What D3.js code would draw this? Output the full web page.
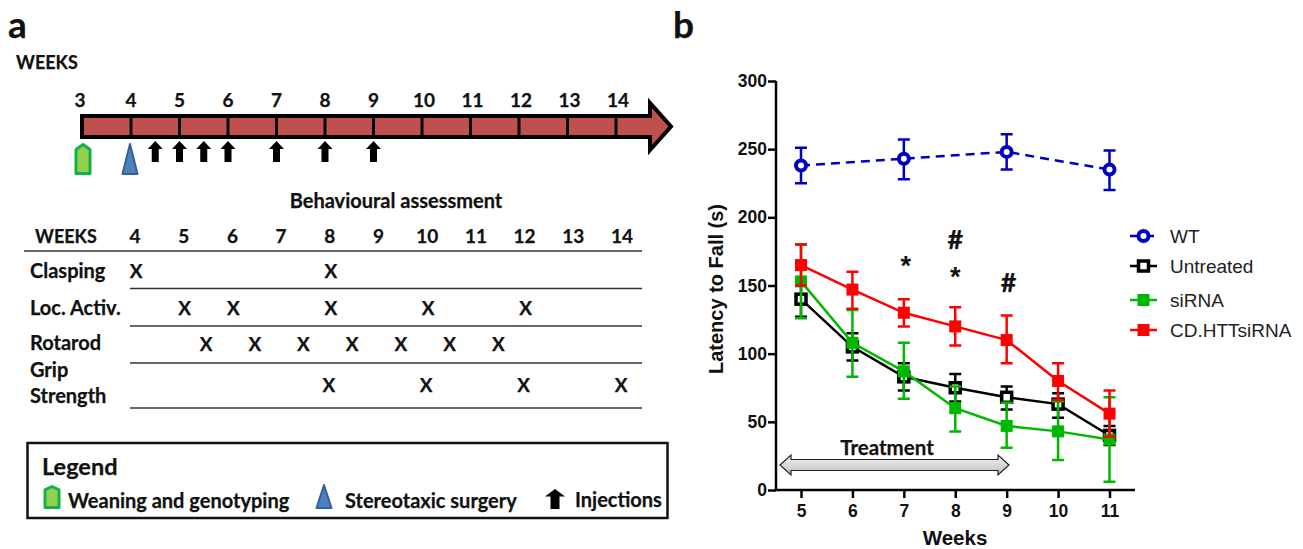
<!DOCTYPE html>
<html>
<head>
<meta charset="utf-8">
<script src="https://cdn.jsdelivr.net/npm/d3@7"></script>
<style>
  body { margin: 0; background: #fff; }
  .cal { font-family: Lato, sans-serif; font-weight: 700; fill: #111; stroke: #111; stroke-width: 0.25px; }
  .ari { font-family: "Liberation Sans", Arial, sans-serif; }
</style>
</head>
<body>
<script>
// panel a data
var timelineWeeks = [3, 4, 5, 6, 7, 8, 9, 10, 11, 12, 13, 14];
var injectionWeeks = [4.5, 5, 5.5, 6, 7, 8, 9];
var tableWeeks = [4, 5, 6, 7, 8, 9, 10, 11, 12, 13, 14];
var clasping = [4, 8];
var locActiv = [5, 6, 8, 10, 12];
var rotarod = [5.5, 6.5, 7.5, 8.5, 9.5, 10.5, 11.5];
var gripStrength = [8, 10, 12, 14];

// panel b data
var weeks = [5, 6, 7, 8, 9, 10, 11];
var wtWeeks = [5, 7, 9, 11];
var wt = [238, 243, 248, 235];
var wtHi = [251, 257, 261, 249];
var wtLo = [225, 228, 235, 220];
var untreated = [140, 105, 83, 75, 68, 63, 40];
var untreatedHi = [153, 115, 93, 85, 76, 71, 47];
var untreatedLo = [127, 95, 73, 65, 59, 53, 33];
var sirna = [153, 108, 87, 60, 47, 43, 37];
var sirnaHi = [180, 132, 108, 76, 64, 65, 68];
var sirnaLo = [126, 83, 67, 43, 31, 22, 6];
var cdhtt = [165, 147, 130, 120, 110, 80, 56];
var cdhttHi = [180, 160, 140, 134, 128, 93, 73];
var cdhttLo = [150, 133, 120, 106, 93, 66, 39];
var yTicks = [0, 50, 100, 150, 200, 250, 300];

var svg = d3.select("body").append("svg").attr("width", 1303).attr("height", 549);

function label(x, y, txt, size, anchor) {
  return svg.append("text").attr("class", "cal").attr("x", x).attr("y", y)
    .attr("font-size", size).attr("text-anchor", anchor || "start").text(txt);
}

function weaningMark(g, h, w) {
  g.append("path")
    .attr("d", "M" + (-w / 2 + 1.5) + "," + (h - 1.5) + "V" + (h * 0.2) + "L0,1.5L" + (w / 2 - 1.5) + "," + (h * 0.2) + "V" + (h - 1.5) + "Z")
    .attr("fill", "#92d050").attr("stroke", "#12b24a").attr("stroke-width", 3).attr("stroke-linejoin", "round");
}
function surgeryMark(g, h, w) {
  g.append("path")
    .attr("d", "M0,1L" + (w / 2 - 1) + "," + (h - 1) + "H" + (-w / 2 + 1) + "Z")
    .attr("fill", "#4f81bd").attr("stroke", "#36609a").attr("stroke-width", 2).attr("stroke-linejoin", "round");
}
function upArrow(g, h, w, s) {
  g.append("path")
    .attr("d", "M0,0L" + (w / 2) + "," + (h * 0.38) + "H" + s + "V" + h + "H" + (-s) + "V" + (h * 0.38) + "H" + (-w / 2) + "Z")
    .attr("fill", "#000");
}

//----------------------------
// panel a
//----------------------------
label(8, 38, "a", 37);
label(16, 69, "WEEKS", 18);

var tl = d3.scaleLinear().domain([4, 14]).range([131, 616]);

// long red arrow
svg.append("path")
  .attr("d", "M82,116H650V103L671,126.5L650,150V137H82Z")
  .attr("fill", "#c0504d").attr("stroke", "#000").attr("stroke-width", 4).attr("stroke-linejoin", "miter");

svg.selectAll(".tl-tick").data(timelineWeeks.slice(1)).enter().append("line")
  .attr("x1", function(d) { return tl(d); })
  .attr("x2", function(d) { return tl(d); })
  .attr("y1", 116).attr("y2", 137)
  .attr("stroke", "#000").attr("stroke-width", 3);

svg.selectAll(".tl-label").data(timelineWeeks).enter().append("text")
  .attr("class", "cal")
  .attr("x", function(d) { return d == 3 ? 80 : tl(d) + (d > 9 ? 2 : 0); })
  .attr("y", 107).attr("font-size", 19).attr("text-anchor", "middle")
  .text(function(d) { return d; });

injectionWeeks.forEach(function(d) {
  var g = svg.append("g").attr("transform", "translate(" + tl(d) + ",141)");
  upArrow(g, 21, 15, 3.5);
});
weaningMark(svg.append("g").attr("transform", "translate(83,143)"), 32, 17);
surgeryMark(svg.append("g").attr("transform", "translate(130,143)"), 32, 17);

// table
label(396, 208, "Behavioural assessment", 20, "middle");
label(35, 243, "WEEKS", 18);

var tb = d3.scaleLinear().domain([4, 14]).range([135, 622]);
svg.selectAll(".tb-week").data(tableWeeks).enter().append("text")
  .attr("class", "cal")
  .attr("x", function(d) { return tb(d); })
  .attr("y", 243).attr("font-size", 19).attr("text-anchor", "middle")
  .text(function(d) { return d; });

var ruleY = [251, 288.5, 326, 363, 408];
ruleY.forEach(function(y, i) {
  svg.append("line").attr("x1", i == 0 ? 24 : 130).attr("x2", 642)
    .attr("y1", y).attr("y2", y).attr("stroke", "#333").attr("stroke-width", 1.5);
});

label(30, 278, "Clasping", 20);
label(30, 315, "Loc. Activ.", 20);
label(30, 350, "Rotarod", 20);
label(30, 377, "Grip", 20);
label(30, 403, "Strength", 20);

function marks(data, y, dx) {
  data.forEach(function(d) {
    label(tb(d) + dx, y, "X", 19, "middle");
  });
}
marks(clasping, 278, 1);
marks(locActiv, 315, 1);
marks(rotarod, 351, -2);
marks(gripStrength, 392, -1);

// legend box
svg.append("rect").attr("x", 27.5).attr("y", 443).attr("width", 640).attr("height", 75)
  .attr("fill", "#fff").attr("stroke", "#111").attr("stroke-width", 2.5);
label(42, 475, "Legend", 23.5);
weaningMark(svg.append("g").attr("transform", "translate(52,485)"), 24, 17);
label(68, 508, "Weaning and genotyping", 20);
surgeryMark(svg.append("g").attr("transform", "translate(324,484)"), 25, 17);
label(345, 508, "Stereotaxic surgery", 20);
upArrow(svg.append("g").attr("transform", "translate(555,489)"), 20, 20, 4.5);
label(575, 507, "Injections", 20);

//----------------------------
// panel b
//----------------------------
label(673, 38, "b", 37);

var x = d3.scaleLinear().domain([5, 11]).range([801, 1109.5]);
var y = d3.scaleLinear().domain([0, 300]).range([490, 81]);
var line = d3.line()
  .x(function(d) { return x(d.w); })
  .y(function(d) { return y(d.v); });

var yAxis = svg.append("g").attr("transform", "translate(776,0)")
  .call(d3.axisLeft(y).tickValues(yTicks).tickSize(8).tickSizeOuter(0));
var xAxis = svg.append("g").attr("transform", "translate(0,490)")
  .call(d3.axisBottom(x).tickValues(weeks).tickFormat(d3.format("d")).tickSize(8).tickSizeOuter(0));
xAxis.select(".domain").attr("d", "M776,0H1135");
yAxis.select(".domain").attr("d", "M0,81V490");
[xAxis, yAxis].forEach(function(a) {
  a.selectAll(".domain, line").attr("stroke", "#000").attr("stroke-width", 2.5);
  a.selectAll("text").attr("class", "ari").attr("fill", "#111")
    .attr("font-size", 17.5).attr("font-weight", 700);
});
yAxis.selectAll("text").attr("x", -9);
xAxis.selectAll("text").attr("y", 15);

svg.append("text").attr("class", "ari")
  .attr("transform", "translate(723,289) rotate(-90)")
  .attr("text-anchor", "middle").attr("font-size", 20).attr("font-weight", 700).attr("fill", "#111")
  .text("Latency to Fall (s)");
svg.append("text").attr("class", "ari")
  .attr("x", 955).attr("y", 545)
  .attr("text-anchor", "middle").attr("font-size", 20.5).attr("font-weight", 700).attr("fill", "#111")
  .text("Weeks");

function drawMarker(g, cx, cy, kind, color) {
  if (kind == "circle") {
    g.append("circle").attr("cx", cx).attr("cy", cy).attr("r", 5)
      .attr("fill", "#fff").attr("stroke", color).attr("stroke-width", 4);
  } else if (kind == "open") {
    g.append("rect").attr("x", cx - 5).attr("y", cy - 5).attr("width", 10).attr("height", 10)
      .attr("fill", "#fff").attr("stroke", color).attr("stroke-width", 3.5);
  } else {
    g.append("rect").attr("x", cx - 6).attr("y", cy - 6).attr("width", 12).attr("height", 12)
      .attr("fill", color);
  }
}

function drawSeries(ws, vals, hi, lo, color, kind, dash) {
  var g = svg.append("g");
  var pts = ws.map(function(w, i) { return { w: w, v: vals[i], hi: hi[i], lo: lo[i] }; });
  g.append("path").datum(pts).attr("d", line).attr("fill", "none")
    .attr("stroke", color).attr("stroke-width", 2.5).attr("stroke-dasharray", dash || null);
  pts.forEach(function(p) {
    var cx = x(p.w);
    g.append("path")
      .attr("d", "M" + cx + "," + y(p.hi) + "V" + y(p.lo) +
        "M" + (cx - 6) + "," + y(p.hi) + "H" + (cx + 6) +
        "M" + (cx - 6) + "," + y(p.lo) + "H" + (cx + 6))
      .attr("fill", "none").attr("stroke", color).attr("stroke-width", 2.5);
    drawMarker(g, cx, y(p.v), kind, color);
  });
}

var blue = "#0000c0", black = "#000000", green = "#00b800", red = "#ff0000";
drawSeries(wtWeeks, wt, wtHi, wtLo, blue, "circle", "9,6");
drawSeries(weeks, untreated, untreatedHi, untreatedLo, black, "open");
drawSeries(weeks, sirna, sirnaHi, sirnaLo, green, "solid");
drawSeries(weeks, cdhtt, cdhttHi, cdhttLo, red, "solid");

// significance marks
var sigWeeks = [7, 8, 8, 9];
var sigValues = [158, 177, 150, 145];
var sigText = ["*", "#", "*", "#"];
sigWeeks.forEach(function(w, i) {
  svg.append("text").attr("class", sigText[i] == "*" ? "ari" : "cal")
    .attr("x", x(w) + (w == 7 || w == 9 ? 2 : 0)).attr("y", y(sigValues[i]))
    .attr("text-anchor", "middle").attr("font-size", sigText[i] == "*" ? 27 : 27)
    .attr("font-weight", 700).attr("fill", "#111").text(sigText[i]);
});

// treatment arrow
var defs = svg.append("defs");
var grad = defs.append("linearGradient").attr("id", "grey").attr("x1", 0).attr("x2", 0).attr("y1", 0).attr("y2", 1);
grad.append("stop").attr("offset", 0).attr("stop-color", "#f4f4f4");
grad.append("stop").attr("offset", 1).attr("stop-color", "#bdbdbd");
svg.append("path")
  .attr("d", "M780,465L791,455V459.5H998V455L1009,465L998,475V470.5H791V475Z")
  .attr("fill", "url(#grey)").attr("stroke", "#222").attr("stroke-width", 1.2);
label(887, 455, "Treatment", 20.5, "middle");

// series legend
var legendNames = ["WT", "Untreated", "siRNA", "CD.HTTsiRNA"];
var legendColors = [blue, black, green, red];
var legendKinds = ["circle", "open", "solid", "solid"];
var legendY = [236, 266, 300, 330];
legendNames.forEach(function(name, i) {
  var g = svg.append("g");
  g.append("line").attr("x1", 1130).attr("x2", 1157).attr("y1", legendY[i]).attr("y2", legendY[i])
    .attr("stroke", legendColors[i]).attr("stroke-width", 2.5)
    .attr("stroke-dasharray", i == 0 ? "9,6" : null);
  drawMarker(g, 1143.5, legendY[i], legendKinds[i], legendColors[i]);
  svg.append("text").attr("class", "ari").attr("x", 1170).attr("y", legendY[i] + 7)
    .attr("font-size", 19).attr("fill", "#222").text(name);
});
</script>
</body>
</html>
